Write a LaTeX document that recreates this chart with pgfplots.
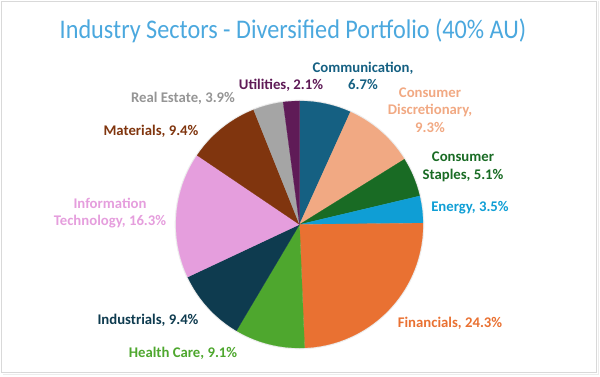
\documentclass[border=0pt]{standalone}
\usepackage{pgfplots}
\pgfplotsset{compat=1.18}
\usepackage{fontspec}
\setmainfont{Carlito}
\definecolor{c1}{HTML}{156082}
\definecolor{c2}{HTML}{F1A983}
\definecolor{c3}{HTML}{196B24}
\definecolor{c4}{HTML}{0F9ED5}
\definecolor{c5}{HTML}{E97132}
\definecolor{c6}{HTML}{4EA72E}
\definecolor{c7}{HTML}{0E3B4F}
\definecolor{c8}{HTML}{E59EDD}
\definecolor{c9}{HTML}{80350E}
\definecolor{c10}{HTML}{A5A5A5}
\definecolor{c11}{HTML}{5F1B57}
\definecolor{t10}{HTML}{959595}
\definecolor{titlecol}{HTML}{4BA8DE}
\definecolor{framecol}{HTML}{D9D9D9}
\begin{document}
\begin{tikzpicture}
\begin{axis}[width=600bp, height=376bp, scale only axis,
  xmin=0, xmax=600, ymin=0, ymax=376, hide axis, clip=false]
\path (axis cs:0,0) rectangle (axis cs:600,376);
\draw[framecol, line width=0.8pt] (axis cs:1,4) rectangle (axis cs:596,375);
\draw[framecol!50, line width=0.8pt] (axis cs:598,375) -- (axis cs:598,2) -- (axis cs:3,2);
\fill[black!7] (axis cs:299.5,151.5) circle[radius=124.8bp];
% sector shares (%), clockwise from 12 o'clock
\def\cum{0}
\pgfplotsforeachungrouped \v/\i in {6.7/1, 9.3/2, 5.1/3, 3.5/4, 24.3/5, 9.1/6, 9.4/7, 16.3/8, 9.4/9, 3.9/10, 2.1/11} {
  \pgfmathsetmacro\a{90-\cum/99.1*360}
  \pgfmathsetmacro\cum{\cum+\v}
  \pgfmathsetmacro\b{90-\cum/99.1*360}
  \edef\temp{\noexpand\addplot[fill=c\i, draw=c\i, line width=0.2pt, domain=\b:\a, samples=60]
    ({299.5+123.5*cos(x)},{151.5+123.5*sin(x)}) -- (axis cs:299.5,151.5) -- cycle;}
  \temp
}
\node[text=titlecol] at (axis cs:293,345) {\scalebox{0.9}[1]{\fontsize{27}{30}\selectfont Industry Sectors - Diversified Portfolio (40\% AU)}};
\tikzset{lab/.style={align=center, font=\bfseries\fontsize{14.8}{17.5}\selectfont}}
\node[lab, text=c1] at (axis cs:363,300) {Communication,\\6.7\%};
\node[lab, text=c2] at (axis cs:430,266) {Consumer\\Discretionary,\\9.3\%};
\node[lab, text=c3] at (axis cs:463,209) {Consumer\\Staples, 5.1\%};
\node[lab, text=c4] at (axis cs:470,168) {Energy, 3.5\%};
\node[lab, text=c5] at (axis cs:450,53) {Financials, 24.3\%};
\node[lab, text=c6] at (axis cs:183,23) {Health Care, 9.1\%};
\node[lab, text=c7] at (axis cs:148,56) {Industrials, 9.4\%};
\node[lab, text=c8] at (axis cs:110,163) {Information\\Technology, 16.3\%};
\node[lab, text=c9] at (axis cs:151,245) {Materials, 9.4\%};
\node[lab, text=t10] at (axis cs:183,278) {Real Estate, 3.9\%};
\node[lab, text=c11] at (axis cs:281,291) {Utilities, 2.1\%};
\end{axis}
\end{tikzpicture}
\end{document}
